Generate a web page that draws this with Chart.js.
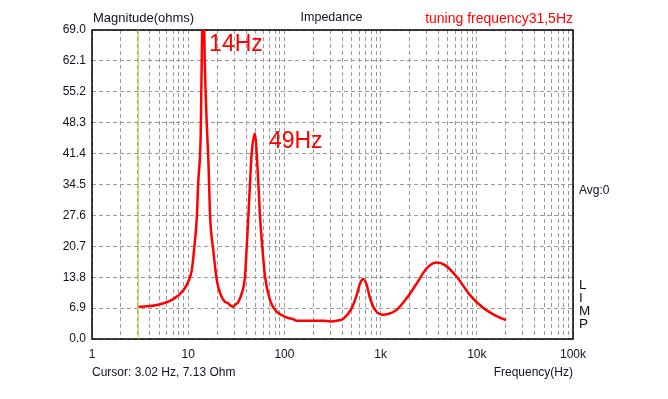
<!DOCTYPE html>
<html>
<head>
<meta charset="utf-8">
<script src="https://cdn.jsdelivr.net/npm/chart.js@4"></script>
<style>
html,body{margin:0;padding:0;background:#fff;}
#wrap{width:668px;height:399px;position:relative;}
</style>
</head>
<body>
<div id="wrap"><canvas id="c" width="668" height="399"></canvas></div>
<script>
// ---- data ----
const freqHz = [3.02, 4.7, 7.0, 8.9, 10.0, 10.9, 11.5, 12.3, 12.7, 13.5, 13.8, 14.3, 14.9, 15.6, 16.2, 16.9, 18.2, 19.8, 21.4, 24.1, 26.1, 27.0, 29.4, 30.7, 33.2, 36.0, 38.9, 40.6, 42.2, 43.9, 45.7, 49.5, 51.5, 53.6, 55.8, 58.9, 62.9, 70.8, 83.2, 105.7, 123.8, 134, 254, 298, 372, 410, 501, 564, 611, 661, 717, 776, 875, 1067, 1202, 1469, 1867, 2372, 3014, 3830, 4670, 6180, 8496, 11690, 16100, 20130];
const ohms   = [7.13, 7.6, 8.9, 10.9, 12.8, 15.4, 19.9, 27.3, 34.8, 46.0, 61.0, 80.0, 61.0, 48.0, 40.0, 27.3, 19.9, 13.2, 10.3, 8.3, 8.0, 7.6, 7.2, 7.6, 8.3, 10.2, 13.9, 20.6, 27.3, 34.8, 41.5, 45.9, 41.5, 34.8, 27.3, 20.6, 13.9, 8.7, 6.1, 4.8, 4.4, 4.1, 4.1, 3.9, 4.2, 4.5, 6.9, 9.8, 12.4, 13.4, 12.1, 9.1, 6.5, 5.4, 5.6, 6.5, 9.1, 12.4, 15.8, 17.1, 16.5, 13.9, 9.8, 6.9, 5.1, 4.2];
const cursorHz = 3.02;
const cursorOhm = 7.13;
const yTicks = [0.0, 6.9, 13.8, 20.7, 27.6, 34.5, 41.4, 48.3, 55.2, 62.1, 69.0];
const xDecades = [1, 10, 100, 1000, 10000, 100000];
const xDecadeLabels = ["1", "10", "100", "1k", "10k", "100k"];
const peakLabels = [{text: "14Hz", at: 16.5, y: 68.4}, {text: "49Hz", at: 69, y: 46.6}];

// minor log grid positions (2..9 per decade) built from decades
const xGrid = [];
xDecades.forEach((d, i) => {
  xGrid.push(d);
  if (i < xDecades.length - 1) for (let m = 2; m <= 9; m++) xGrid.push(d * m);
});

const FONT = "'Liberation Sans', Arial, sans-serif";
const TXT = '#111122';

const textPlugin = {
  id: 'texts',
  beforeDatasetsDraw(chart) {
    const {ctx, chartArea: a} = chart;
    ctx.save();
    ctx.strokeStyle = '#000';
    ctx.lineWidth = 1.5;
    ctx.strokeRect(a.left, a.top, a.right - a.left, a.bottom - a.top);
    ctx.restore();
  },
  afterDraw(chart) {
    const {ctx, chartArea: a, scales} = chart;
    ctx.save();
    ctx.textBaseline = 'middle';
    ctx.fillStyle = TXT;
    ctx.textAlign = 'left';
    ctx.font = '13px ' + FONT;
    ctx.fillText('Magnitude(ohms)', a.left + 1, 18);
    ctx.textAlign = 'center';
    ctx.font = '12.5px ' + FONT;
    ctx.fillText('Impedance', (a.left + a.right) / 2 - 1, 18);
    ctx.textAlign = 'right';
    ctx.fillStyle = '#ff0000';
    ctx.font = '14px ' + FONT;
    ctx.fillText('tuning frequency31,5Hz', a.right, 19);
    ctx.fillStyle = TXT;
    ctx.font = '12px ' + FONT;
    ctx.textAlign = 'left';
    ctx.fillText('Cursor: ' + cursorHz.toFixed(2) + ' Hz, ' + cursorOhm.toFixed(2) + ' Ohm', a.left, 373);
    ctx.textAlign = 'right';
    ctx.fillText('Frequency(Hz)', a.right, 373);
    ctx.textAlign = 'left';
    ctx.fillText('Avg:0', a.right + 6, 191);
    ctx.font = '13.5px ' + FONT;
    ['L', 'I', 'M', 'P'].forEach((ch, i) => ctx.fillText(ch, a.right + 6, 285 + i * 13));
    // peak annotations
    ctx.fillStyle = '#ff0000';
    ctx.font = '23px ' + FONT;
    ctx.textBaseline = 'top';
    ctx.textAlign = 'left';
    peakLabels.forEach(p => {
      ctx.fillText(p.text, scales.x.getPixelForValue(p.at), scales.y.getPixelForValue(p.y));
    });
    ctx.restore();
  }
};

new Chart(document.getElementById('c'), {
  type: 'line',
  data: {
    datasets: [
      {
        data: [{x: cursorHz, y: 0}, {x: cursorHz, y: 69}],
        borderColor: '#c8c400',
        borderWidth: 1,
        pointRadius: 0,
        clip: 0
      },
      {
        data: freqHz.map((f, i) => ({x: f, y: ohms[i]})),
        borderColor: '#ff0000',
        borderWidth: 2.5,
        pointRadius: 0,
        cubicInterpolationMode: 'monotone',
        clip: 0
      }
    ]
  },
  options: {
    responsive: false,
    animation: false,
    devicePixelRatio: 1,
    layout: {padding: {top: 30, right: 95, left: 0, bottom: 0}},
    plugins: {legend: {display: false}, tooltip: {enabled: false}, title: {display: false}},
    scales: {
      x: {
        type: 'logarithmic',
        min: 1,
        max: 100000,
        afterBuildTicks(s) { s.ticks = xGrid.map(v => ({value: v})); },
        afterFit(s) { s.height = 60; },
        ticks: {
          autoSkip: false,
          maxRotation: 0,
          padding: 8,
          color: TXT,
          font: {family: FONT, size: 12},
          callback(v) { const i = xDecades.indexOf(v); return i >= 0 ? xDecadeLabels[i] : ''; }
        },
        grid: {color: '#9a9a9a', lineWidth: 1, drawTicks: false},
        border: {display: false, dash: [4, 3]}
      },
      y: {
        min: 0,
        max: 69,
        afterBuildTicks(s) { s.ticks = yTicks.map(v => ({value: v})); },
        afterFit(s) { s.width = 92; },
        ticks: {
          padding: 6,
          color: TXT,
          font: {family: FONT, size: 12},
          callback(v) { return Number(v).toFixed(1); }
        },
        grid: {color: '#9a9a9a', lineWidth: 1, drawTicks: false},
        border: {display: false, dash: [4, 3]}
      }
    }
  },
  plugins: [textPlugin]
});
</script>
</body>
</html>
